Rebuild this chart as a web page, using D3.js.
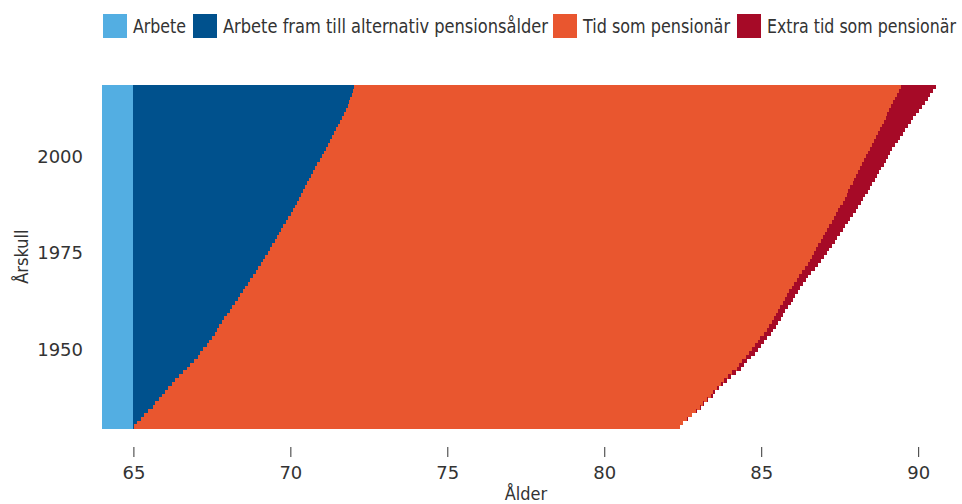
<!DOCTYPE html>
<html>
<head>
<meta charset="utf-8">
<script src="https://cdn.jsdelivr.net/npm/d3@7"></script>
<style>
  html, body { margin: 0; padding: 0; background: #fff; }
  svg { display: block; }
</style>
</head>
<body>
<svg id="chart" width="962" height="504"></svg>
<script>
// ---- Data ----
const firstCohort = 1930;
const lastCohort = 2018;
const cohorts = d3.range(firstCohort, lastCohort + 1); // Årskull

const normalAge = 65; // end of "Arbete"

// Alternativ pensionsålder (end of dark blue), 1930..2018
const altAge = [
  65.02, 65.11, 65.24, 65.34, 65.46, 65.62, 65.69, 65.81, 65.91, 66.00,
  66.10, 66.23, 66.32, 66.45, 66.58, 66.70, 66.80, 66.93, 67.06, 67.12,
  67.22, 67.34, 67.40, 67.50, 67.60, 67.66, 67.73, 67.82, 67.89, 67.98,
  68.07, 68.14, 68.23, 68.33, 68.39, 68.49, 68.55, 68.65, 68.71, 68.81,
  68.90, 68.97, 69.06, 69.13, 69.19,
  69.29, 69.35, 69.41, 69.51, 69.57, 69.64, 69.70, 69.76, 69.86, 69.92,
  70.02, 70.08, 70.14, 70.21, 70.27, 70.34, 70.40, 70.46, 70.53, 70.59,
  70.65, 70.72, 70.78, 70.84, 70.94, 71.00, 71.07, 71.13, 71.20, 71.26,
  71.32, 71.39, 71.45, 71.52, 71.58, 71.64, 71.71, 71.77, 71.83, 71.87,
  71.90, 71.96, 71.99, 72.03
];

// End of "Tid som pensionär" (orange), 1930..2018
const lifeEnd = [
  82.41, 82.51, 82.64, 82.78, 82.92, 83.04, 83.15, 83.28, 83.41, 83.48,
  83.58, 83.71, 83.83, 83.93, 84.08, 84.23, 84.30, 84.40, 84.52, 84.62,
  84.72, 84.80, 84.90, 84.97, 85.09, 85.17, 85.24, 85.33, 85.40, 85.46,
  85.52, 85.60, 85.69, 85.75, 85.81, 85.90, 85.98, 86.05, 86.14, 86.21,
  86.30, 86.39, 86.48, 86.55, 86.61,
  86.68, 86.75, 86.82, 86.89, 86.96, 87.03, 87.10, 87.17, 87.24, 87.31,
  87.38, 87.45, 87.52, 87.59, 87.66, 87.72, 87.78, 87.84, 87.91, 87.97,
  88.03, 88.09, 88.15, 88.22, 88.28, 88.34, 88.40, 88.46, 88.53, 88.59,
  88.65, 88.71, 88.77, 88.84, 88.90, 88.96, 89.02, 89.08, 89.15, 89.21,
  89.27, 89.33, 89.39, 89.45
];

// "Extra tid som pensionär" (years), 1930..2018
const extraTime = [
  0.01, 0.01, 0.02, 0.02, 0.02, 0.03, 0.03, 0.04, 0.04, 0.05,
  0.06, 0.07, 0.09, 0.11, 0.12, 0.13, 0.14, 0.15, 0.16, 0.17,
  0.18, 0.19, 0.19, 0.20, 0.21, 0.21, 0.22, 0.22, 0.23, 0.23,
  0.24, 0.24, 0.25, 0.25, 0.26, 0.26, 0.27, 0.27, 0.28, 0.29,
  0.30, 0.32, 0.34, 0.36, 0.39,
  0.41, 0.42, 0.44, 0.45, 0.46, 0.48, 0.49, 0.51, 0.52, 0.53,
  0.55, 0.56, 0.57, 0.58, 0.59, 0.60, 0.61, 0.62, 0.63, 0.64,
  0.65, 0.66, 0.67, 0.68, 0.69, 0.70, 0.71, 0.72, 0.74, 0.76,
  0.78, 0.80, 0.82, 0.84, 0.86, 0.88, 0.91, 0.94, 0.97, 1.00,
  1.03, 1.06, 1.09, 1.11
];

const seriesNames = ["Arbete", "Arbete fram till alternativ pensionsålder", "Tid som pensionär", "Extra tid som pensionär"];
const seriesColors = ["#53AEE2", "#00518D", "#E9562F", "#A60A27"];
const xTicks = [65, 70, 75, 80, 85, 90];
const yTicks = [1950, 1975, 2000];
const xTitle = "Ålder";
const yTitle = "Årskull";

// ---- Build stacked table ----
const table = cohorts.map((c, i) => ({
  cohort: c,
  arbete: normalAge,
  fram: altAge[i] - normalAge,
  pension: lifeEnd[i] - altAge[i],
  extra: extraTime[i]
}));
const keys = ["arbete", "fram", "pension", "extra"];
const stacked = d3.stack().keys(keys)(table);

// ---- Scales ----
const svg = d3.select("#chart");
const plot = { left: 102, right: 937, top: 85, bottom: 428.3 };

const x = d3.scaleLinear().domain([64, 90.6]).range([plot.left, plot.right]);
const y = d3.scaleBand()
  .domain(cohorts.slice().reverse())
  .range([plot.top, plot.bottom])
  .paddingInner(0).paddingOuter(0);

// ---- Bars ----
const g = svg.append("g").attr("shape-rendering", "crispEdges");
stacked.forEach((s, si) => {
  g.append("g")
    .attr("fill", seriesColors[si])
    .selectAll("rect")
    .data(s)
    .join("rect")
    .attr("x", d => x(Math.max(d[0], x.domain()[0])))
    .attr("y", d => y(d.data.cohort))
    .attr("width", d => Math.max(0, x(d[1]) - x(Math.max(d[0], x.domain()[0]))))
    .attr("height", y.bandwidth() + 0.5);
});

// ---- X axis ----
const textColor = "#333333";
const xAxis = d3.axisBottom(x).tickValues(xTicks).tickSize(10).tickPadding(9).tickFormat(d3.format("d"));
const xg = svg.append("g").attr("transform", `translate(0,${447})`).call(xAxis);
xg.select(".domain").remove();
xg.selectAll(".tick line").attr("stroke", textColor).attr("stroke-width", 1);
xg.selectAll(".tick text")
  .attr("fill", textColor)
  .style("font-family", "'DejaVu Sans', sans-serif")
  .style("font-size", "18px");

svg.append("text")
  .attr("x", 526).attr("y", 500)
  .attr("text-anchor", "middle")
  .attr("fill", textColor)
  .style("font-family", "'DejaVu Sans Condensed', 'DejaVu Sans', sans-serif")
  .style("font-size", "18px")
  .text(xTitle);

// ---- Y axis ----
const yAxis = d3.axisLeft(y).tickValues(yTicks).tickSize(0).tickPadding(19);
const yg = svg.append("g").attr("transform", `translate(${plot.left},0)`).call(yAxis);
yg.select(".domain").remove();
yg.selectAll(".tick text")
  .attr("fill", textColor)
  .attr("dy", "0.36em")
  .style("font-family", "'DejaVu Sans', sans-serif")
  .style("font-size", "18px");

svg.append("text")
  .attr("transform", `translate(28,${(plot.top + plot.bottom) / 2}) rotate(-90)`)
  .attr("text-anchor", "middle")
  .attr("fill", textColor)
  .style("font-family", "'DejaVu Sans Condensed', 'DejaVu Sans', sans-serif")
  .style("font-size", "18px")
  .text(yTitle);

// ---- Legend ----
const legendX = [103, 193, 553, 737];
const legendTextW = [53, 325, 147, 189];
const lg = svg.append("g");
seriesNames.forEach((name, i) => {
  lg.append("rect")
    .attr("x", legendX[i]).attr("y", 14)
    .attr("width", 24).attr("height", 24)
    .attr("fill", seriesColors[i]);
  lg.append("text")
    .attr("x", legendX[i] + 30).attr("y", 33)
    .attr("fill", textColor)
    .attr("textLength", legendTextW[i])
    .attr("lengthAdjust", "spacingAndGlyphs")
    .style("font-family", "'DejaVu Sans Condensed', 'DejaVu Sans', sans-serif")
    .style("font-size", "20px")
    .text(name);
});
</script>
</body>
</html>
